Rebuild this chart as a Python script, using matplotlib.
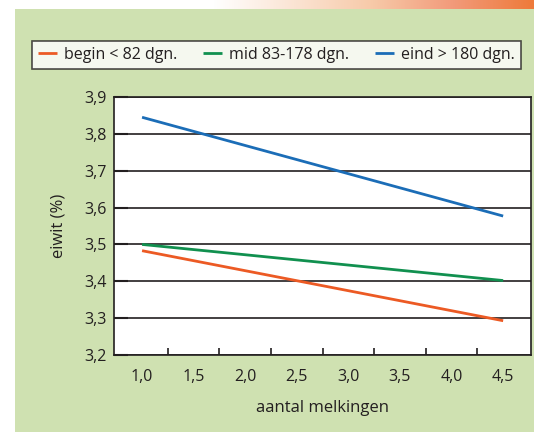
import numpy as np
import matplotlib
matplotlib.use("Agg")
import matplotlib.pyplot as plt
from matplotlib.colors import LinearSegmentedColormap

plt.rcParams['font.family'] = ['Open Sans', 'DejaVu Sans']

x_values = [1.0, 4.5]
begin_vals = [3.483, 3.293]
mid_vals = [3.500, 3.402]
eind_vals = [3.845, 3.577]
series_labels = ["begin < 82 dgn.", "mid 83-178 dgn.", "eind > 180 dgn."]
series_colors = ["#ec5a24", "#11904f", "#1b6db7"]
x_ticks = [1.0, 1.5, 2.0, 2.5, 3.0, 3.5, 4.0, 4.5]
x_ticklabels = ["1,0", "1,5", "2,0", "2,5", "3,0", "3,5", "4,0", "4,5"]
y_ticks = [3.2, 3.3, 3.4, 3.5, 3.6, 3.7, 3.8, 3.9]
y_ticklabels = ["3,2", "3,3", "3,4", "3,5", "3,6", "3,7", "3,8", "3,9"]

W, H = 534, 432
fig = plt.figure(figsize=(W / 100, H / 100), dpi=100)
fig.patch.set_facecolor("white")

# green panel
bg = fig.add_axes([15 / W, 0, 1 - 15 / W, 1 - 9 / H])
bg.set_facecolor("#cfe1b1")
bg.set_xticks([]); bg.set_yticks([])
for s in bg.spines.values():
    s.set_visible(False)

# top gradient strip
strip = fig.add_axes([0, 1 - 9 / H, 1, 9 / H])
cmap = LinearSegmentedColormap.from_list("g", [(0, "#ffffff"), (0.4, "#ffffff"), (0.7, "#f7c9a8"), (0.85, "#f29a7a"), (1.0, "#ee7a3a")])
grad = np.linspace(0, 1, 256).reshape(1, -1)
strip.imshow(grad, aspect="auto", cmap=cmap, extent=[0, 1, 0, 1])
strip.axis("off")

ax = fig.add_axes([114 / W, 1 - 355 / H, (531 - 114) / W, (355 - 97) / H])
ax.set_facecolor("white")
data = [begin_vals, mid_vals, eind_vals]
for vals, lab, col in zip(data, series_labels, series_colors):
    ax.plot(x_values, vals, color=col, lw=2, label=lab, solid_capstyle="butt")

ax.set_xlim(0.728, 4.77)
ax.set_ylim(3.2, 3.9)
ax.set_yticks(y_ticks)
ax.set_yticklabels(y_ticklabels, fontsize=11.5, color="#231f20")
ax.set_xticks(x_ticks)
ax.set_xticklabels(x_ticklabels, fontsize=11.5, color="#231f20")
ax.set_xticks([1.25, 1.75, 2.25, 2.75, 3.25, 3.75, 4.25], minor=True)
ax.tick_params(axis="x", which="major", length=0, pad=10)
ax.tick_params(axis="x", which="minor", direction="in", length=5, width=1.2, color="#231f20")
ax.tick_params(axis="y", which="major", direction="in", length=10, width=1.5, pad=5, color="#231f20")
ax.grid(axis="y", color="#231f20", lw=1.2)
ax.set_axisbelow(True)
for s in ax.spines.values():
    s.set_color("#231f20")
    s.set_linewidth(1.2)

ax.set_xlabel("aantal melkingen", fontsize=12, color="#231f20", labelpad=11)
ax.set_ylabel("eiwit (%)", fontsize=12, color="#231f20", labelpad=13)

leg = fig.legend(loc="center", bbox_to_anchor=(276.5 / W, 1 - 55 / H), ncol=3,
                 fontsize=11.5, frameon=True, fancybox=False, handlelength=1.2,
                 handletextpad=0.45, columnspacing=1.6, borderpad=0.4)
leg.get_frame().set_edgecolor("#231f20")
leg.get_frame().set_linewidth(1.2)
for t in leg.get_texts():
    t.set_color("#231f20")

fig.savefig("out.png", dpi=100, facecolor=fig.get_facecolor())
